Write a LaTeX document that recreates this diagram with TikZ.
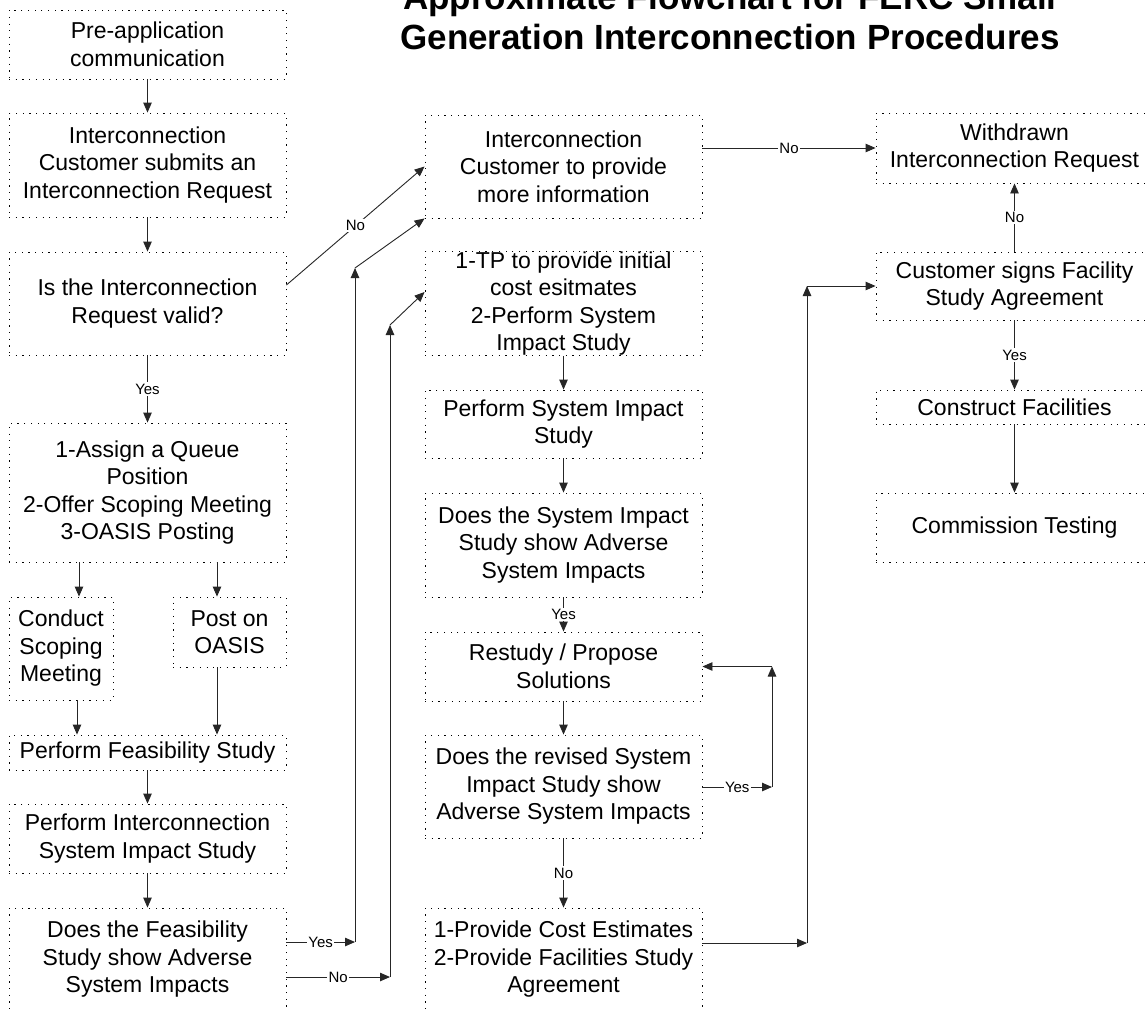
\documentclass[tikz,border=0pt]{standalone}
\usepackage{fontspec}
\setmainfont{Liberation Sans}
\usetikzlibrary{arrows.meta}
\begin{document}
\begin{tikzpicture}[x=1pt,y=-1pt,
  box/.style={draw=black, line width=0.9pt, dash pattern=on 1.2pt off 5.5pt, align=center, inner sep=0pt, font=\fontsize{23}{27.5}\selectfont, text=black},
  arr/.style={draw=black!85, line width=0.9pt, -{Triangle[length=10pt,width=8.5pt]}},
  lbl/.style={fill=white, inner sep=1.5pt, font=\fontsize{15}{17}\selectfont, text=black},
  ttl/.style={font=\fontsize{35}{40}\selectfont\bfseries, anchor=base, inner sep=0pt}]
\useasboundingbox (0,0) rectangle (1145,1010);
\fill[white] (0,0) rectangle (1145,1010);
\clip (0,0) rectangle (1145,1010);

% title
\node[ttl] (t1) at (730,9) {Approximate Flowchart for FERC Small};
\node[ttl] (t2) at (730,49) {Generation Interconnection Procedures};

% left column
\node[box, minimum width=277pt, minimum height=69pt]  (pre)      at (147.5,44.5) {Pre-application\\communication};
\node[box, minimum width=277pt, minimum height=104pt] (submit)   at (147.5,165)  {Interconnection\\Customer submits an\\Interconnection Request};
\node[box, minimum width=277pt, minimum height=103pt] (valid)    at (147.5,303.5){Is the Interconnection\\Request valid?};
\node[box, minimum width=277pt, minimum height=139pt] (assign)   at (147.5,492.5){1-Assign a Queue\\Position\\2-Offer Scoping Meeting\\3-OASIS Posting};
\node[box, minimum width=104pt, minimum height=103pt] (conduct)  at (61,648.5)   {Conduct\\Scoping\\Meeting};
\node[box, minimum width=113pt, minimum height=70pt]  (post)     at (229.5,632)  {Post on\\OASIS};
\node[box, minimum width=277pt, minimum height=35pt]  (feas)     at (147.5,752.5){Perform Feasibility Study};
\node[box, minimum width=277pt, minimum height=69pt]  (perfisis) at (147.5,838.5){Perform Interconnection\\System Impact Study};
\node[box, minimum width=277pt, minimum height=103pt] (doesfeas) at (147.5,959.5){Does the Feasibility\\Study show Adverse\\System Impacts};

% middle column
\node[box, minimum width=277pt, minimum height=103pt] (more)     at (563.5,166.5){Interconnection\\Customer to provide\\more information};
\node[box, minimum width=277pt, minimum height=103pt] (tp)       at (563.5,303.5){1-TP to provide initial\\cost esitmates\\2-Perform System\\Impact Study};
\node[box, minimum width=277pt, minimum height=68pt]  (psis)     at (563.5,424)  {Perform System Impact\\Study};
\node[box, minimum width=277pt, minimum height=104pt] (doessis)  at (563.5,545)  {Does the System Impact\\Study show Adverse\\System Impacts};
\node[box, minimum width=277pt, minimum height=69pt]  (restudy)  at (563.5,666.5){Restudy / Propose\\Solutions};
\node[box, minimum width=277pt, minimum height=103pt] (revised)  at (563.5,786.5){Does the revised System\\Impact Study show\\Adverse System Impacts};
\node[box, minimum width=277pt, minimum height=103pt] (provide)  at (563.5,959.5){1-Provide Cost Estimates\\2-Provide Facilities Study\\Agreement};

% right column
\node[box, minimum width=277pt, minimum height=70pt]  (withdrawn)  at (1014.5,148)  {Withdrawn\\Interconnection Request};
\node[box, minimum width=277pt, minimum height=68pt]  (signs)      at (1014.5,286)  {Customer signs Facility\\Study Agreement};
\node[box, minimum width=277pt, minimum height=34pt]  (construct)  at (1014.5,407)  {Construct Facilities};
\node[box, minimum width=277pt, minimum height=69pt]  (commission) at (1014.5,527.5){Commission Testing};

% helper coordinates
\coordinate (xa) at (79,0);
\coordinate (xb) at (217,0);
\coordinate (xc) at (77,0);
\coordinate (ya) at (0,285);
\coordinate (yA) at (355,942);
\coordinate (yB) at (355,268);
\coordinate (nA) at (390,977);
\coordinate (nB) at (390,325);
\coordinate (nE) at (0,292);
\coordinate (rA) at (772,787);
\coordinate (pA) at (807,943);

% connectors left column
\draw[arr] (pre) -- (submit);
\draw[arr] (submit) -- (valid);
\draw[arr] (valid) -- node[lbl]{Yes} (assign);
\draw[arr] (assign.south -| xa) -- (conduct.north -| xa);
\draw[arr] (assign.south -| xb) -- (post.north -| xb);
\draw[arr] (conduct.south -| xc) -- (feas.north -| xc);
\draw[arr] (post.south -| xb) -- (feas.north -| xb);
\draw[arr] (feas) -- (perfisis);
\draw[arr] (perfisis) -- (doesfeas);

% cross connectors
\draw[arr] (valid.east |- ya) -- node[lbl]{No} (more.west);
\draw[arr] (doesfeas.east |- yA) -- node[lbl]{Yes} (yA);
\draw[arr] (yA) -- (yB);
\draw[arr] (yB) -- (more.south west);
\draw[arr] (doesfeas.east |- nA) -- node[lbl]{No} (nA);
\draw[arr] (nA) -- (nB);
\draw[arr] (nB) -- (tp.west |- nE);
\draw[arr] (more.east |- withdrawn.west) -- node[lbl]{No} (withdrawn.west);

% middle column
\draw[arr] (tp) -- (psis);
\draw[arr] (psis) -- (doessis);
\draw[arr] (doessis) -- node[lbl]{Yes} (restudy);
\draw[arr] (restudy) -- (revised);
\draw[arr] (revised) -- node[lbl]{No} (provide);
\draw[arr] (revised.east |- rA) -- node[lbl]{Yes} (rA);
\draw[arr] (rA) -- (rA |- restudy.east);
\draw[arr] (rA |- restudy.east) -- (restudy.east);
\draw[arr] (provide.east |- pA) -- (pA);
\draw[arr] (pA) -- (pA |- signs.west);
\draw[arr] (pA |- signs.west) -- (signs.west);

% right column
\draw[arr] (signs) -- node[lbl]{No} (withdrawn);
\draw[arr] (signs) -- node[lbl]{Yes} (construct);
\draw[arr] (construct) -- (commission);
\end{tikzpicture}
\end{document}
